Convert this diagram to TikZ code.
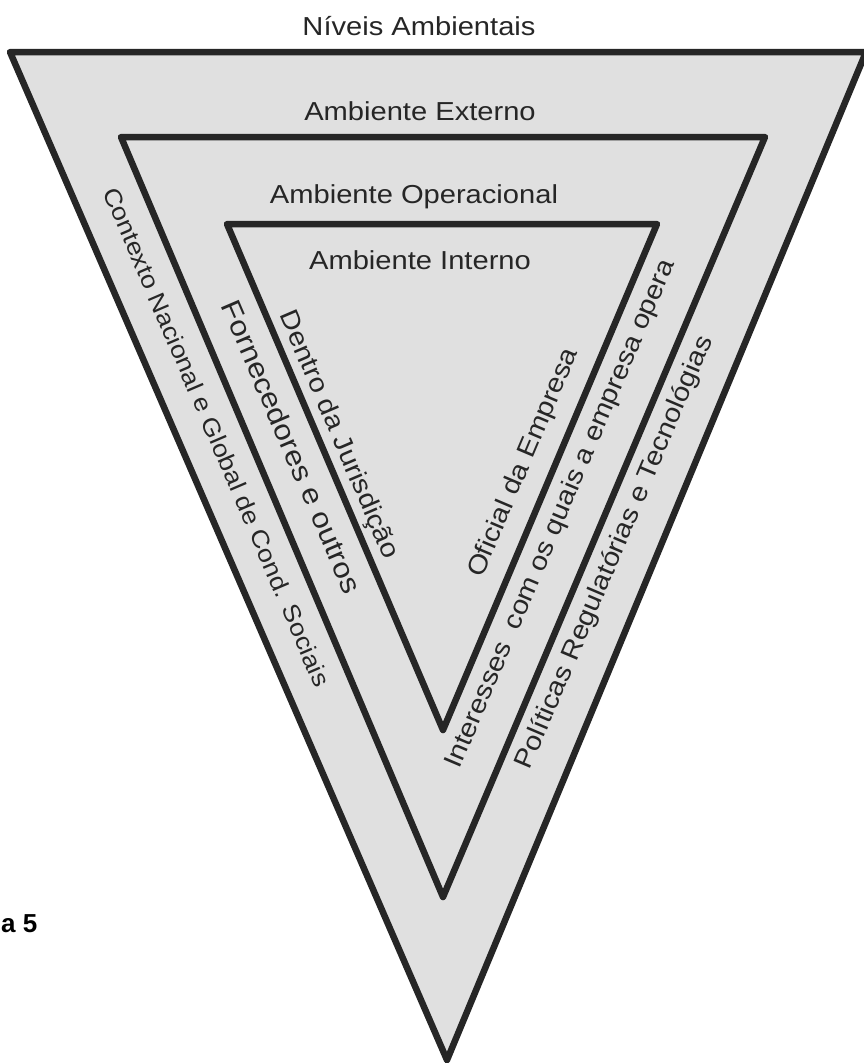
\documentclass[tikz,border=0pt]{standalone}
\usepackage{fontspec}
\setmainfont{Liberation Sans}
\newfontfamily\labfont[FakeStretch=1.12]{Liberation Sans}
\begin{document}
\begin{tikzpicture}[x=1pt,y=-1pt,
  edge/.style={draw=black!85, line width=6.5pt, line join=round},
  area/.style={fill=black!12},
  lbl/.style={font=\labfont\fontsize{26}{30}\selectfont, inner sep=0pt, text=black!85},
  slbl/.style={font=\labfont\fontsize{24}{28}\selectfont, inner sep=0pt, text=black!85},
  blbl/.style={font=\labfont\fontsize{28}{32}\selectfont, inner sep=0pt, text=black!85},
  leftside/.style={rotate=-66.8},
  rightside/.style={rotate=67}]
\useasboundingbox (0,0) rectangle (863,1063);
% corners
\coordinate (O1) at (10,52);
\coordinate (O2) at (866,52);
\coordinate (O3) at (447,1060);
\coordinate (M1) at (121,137);
\coordinate (M2) at (765,137);
\coordinate (M3) at (443,897);
\coordinate (I1) at (227,224);
\coordinate (I2) at (657,224);
\coordinate (I3) at (443,730);
% triangles
\path[area] (O1) -- (O2) -- (O3) -- cycle;
\draw[edge] (O1) -- (O2) -- (O3) -- cycle;
\draw[edge] (M1) -- (M2) -- (M3) -- cycle;
\draw[edge] (I1) -- (I2) -- (I3) -- cycle;
% horizontal labels
\node[lbl, anchor=base] (tNiveis) at (419,35) {Níveis Ambientais};
\node[lbl, anchor=base] (tExterno) at (420,120) {Ambiente Externo};
\node[lbl, anchor=base] (tOperacional) at (414,203) {Ambiente Operacional};
\node[lbl, anchor=base] (tInterno) at (420,269) {Ambiente Interno};
% left side labels
\node[slbl, leftside] (tContexto) at (217,437) {Contexto Nacional e Global de Cond. Sociais};
\node[blbl, leftside] (tFornec) at (292,447) {Fornecedores e outros};
\node[lbl, leftside] (tDentro) at (338,435) {Dentro da Jurisdição};
% right side labels
\node[lbl, rightside] (tOficial) at (524,463) {Oficial da Empresa};
\node[lbl, rightside] (tInteresses) at (561,514) {Interesses\ \ com os quais a empresa opera};
\node[lbl, rightside] (tPoliticas) at (615,553) {Políticas Regulatórias e Tecnológias};
% caption fragment
\node[font=\bfseries\fontsize{26}{30}\selectfont, inner sep=0pt, anchor=base west] (tFig) at (1,932) {a 5};
\end{tikzpicture}
\end{document}
